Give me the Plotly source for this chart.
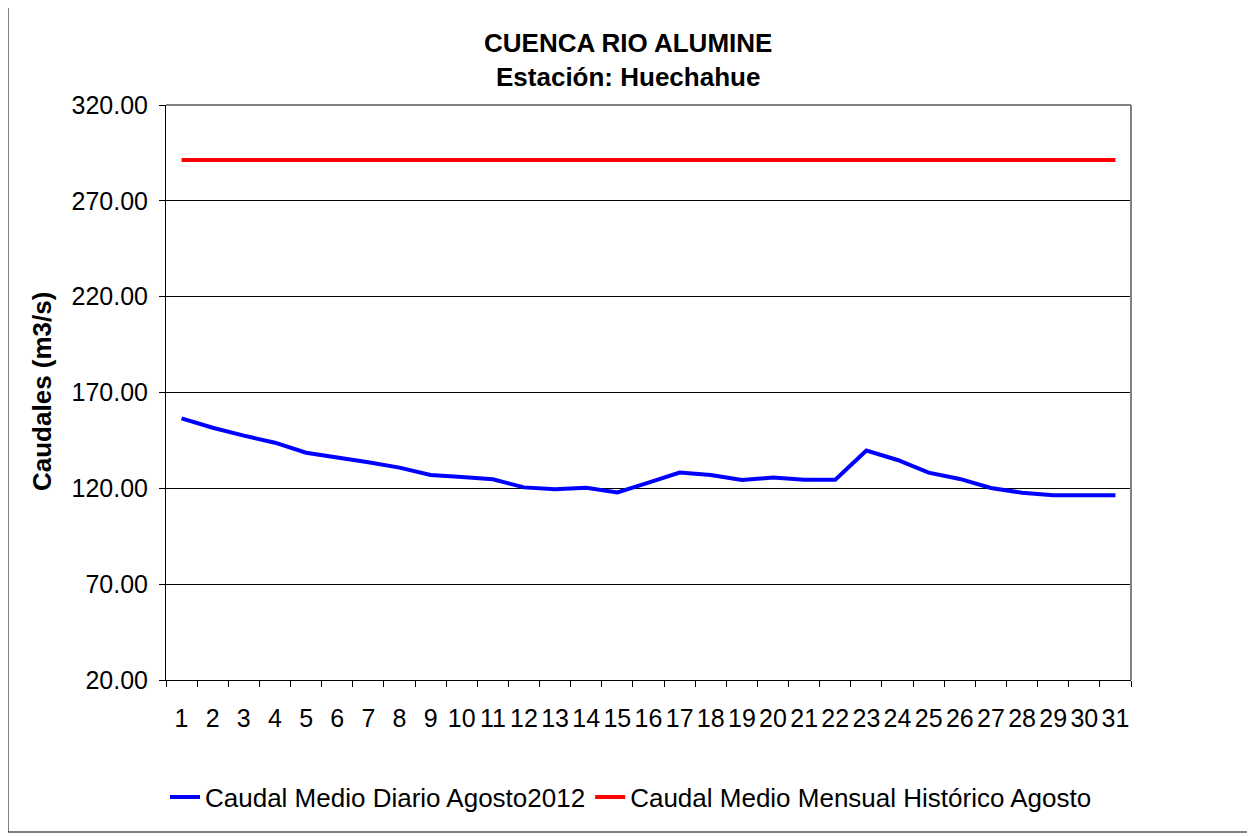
import plotly.graph_objects as go

days = [str(d) for d in range(1, 32)]
caudal_diario = [156.5, 151.6, 147.5, 143.8, 138.6, 136.2, 133.6, 130.8, 127.0, 125.9,
                 124.7, 120.5, 119.5, 120.3, 117.9, 123.0, 128.2, 127.0, 124.3, 125.6,
                 124.5, 124.5, 139.7, 134.8, 128.2, 124.9, 120.2, 117.7, 116.4, 116.4, 116.4]
caudal_historico = [291.3] * 31
y_ticks = [20, 70, 120, 170, 220, 270, 320]
y_ticklabels = ["20.00", "70.00", "120.00", "170.00", "220.00", "270.00", "320.00"]

FONT = "Liberation Sans, Arial, sans-serif"
OFF = 8  # page body offset
W, H = 1255 - OFF, 836 - OFF
L, R, T, B = 166 - OFF, 1131 - OFF, 105 - OFF, 680 - OFF
pw, ph = R - L, B - T

def px(x):
    return (x - OFF - L) / pw

def py(y):
    return (B - (y - OFF)) / ph

fig = go.Figure()
fig.add_trace(go.Scatter(x=days, y=caudal_diario, mode="lines",
                         name="Caudal Medio Diario Agosto2012",
                         line=dict(color="#0000FF", width=4)))
fig.add_trace(go.Scatter(x=days, y=caudal_historico, mode="lines",
                         name="Caudal Medio Mensual Histórico Agosto",
                         line=dict(color="#FF0000", width=4)))

fig.update_layout(
    width=W, height=H,
    margin=dict(l=L, r=W - R, t=T, b=H - B),
    paper_bgcolor="white", plot_bgcolor="white",
    font=dict(family=FONT, color="black"),
    showlegend=True,
    legend=dict(orientation="h", x=px(631), y=py(797), xanchor="center", yanchor="middle",
                font=dict(size=26, family=FONT), bgcolor="rgba(0,0,0,0)",
                tracegroupgap=0),
)

fig.update_xaxes(type="category", range=[-0.5, 30.5], tickson="boundaries",
                 ticks="outside", ticklen=6, tickcolor="black", tickangle=0,
                 showgrid=False, showline=True, linecolor="black", linewidth=1,
                 mirror=False, tickfont=dict(size=25, family=FONT),
                 ticklabelstandoff=16, fixedrange=True)
fig.update_yaxes(range=[20, 320], tickvals=y_ticks, ticktext=y_ticklabels,
                 ticks="outside", ticklen=6, tickcolor="black",
                 showgrid=True, gridcolor="black", gridwidth=1,
                 showline=True, linecolor="black", linewidth=1,
                 tickfont=dict(size=25, family=FONT),
                 ticklabelstandoff=6, zeroline=False, fixedrange=True)

# plot area border (top & right gray)
fig.add_shape(type="line", xref="paper", yref="paper", x0=0, x1=1, y0=1, y1=1,
              line=dict(color="#808080", width=2))
fig.add_shape(type="line", xref="paper", yref="paper", x0=1, x1=1, y0=0, y1=1,
              line=dict(color="#808080", width=2))
# outer chart border
fig.add_shape(type="rect", xref="paper", yref="paper",
              x0=px(8), x1=px(1251), y0=py(832), y1=py(4),
              line=dict(color="black", width=1), fillcolor="rgba(0,0,0,0)", layer="below")

fig.add_annotation(text="<b>CUENCA RIO ALUMINE</b>", xref="paper", yref="paper",
                   x=px(628), y=py(43), xanchor="center", yanchor="middle",
                   showarrow=False, font=dict(size=26, family=FONT))
fig.add_annotation(text="<b>Estación: Huechahue</b>", xref="paper", yref="paper",
                   x=px(628), y=py(77), xanchor="center", yanchor="middle",
                   showarrow=False, font=dict(size=26, family=FONT))
fig.add_annotation(text="<b>Caudales (m3/s)</b>", xref="paper", yref="paper",
                   x=px(42), y=py(392), xanchor="center", yanchor="middle",
                   textangle=-90, showarrow=False, font=dict(size=26, family=FONT))

fig.write_html("out.html")
